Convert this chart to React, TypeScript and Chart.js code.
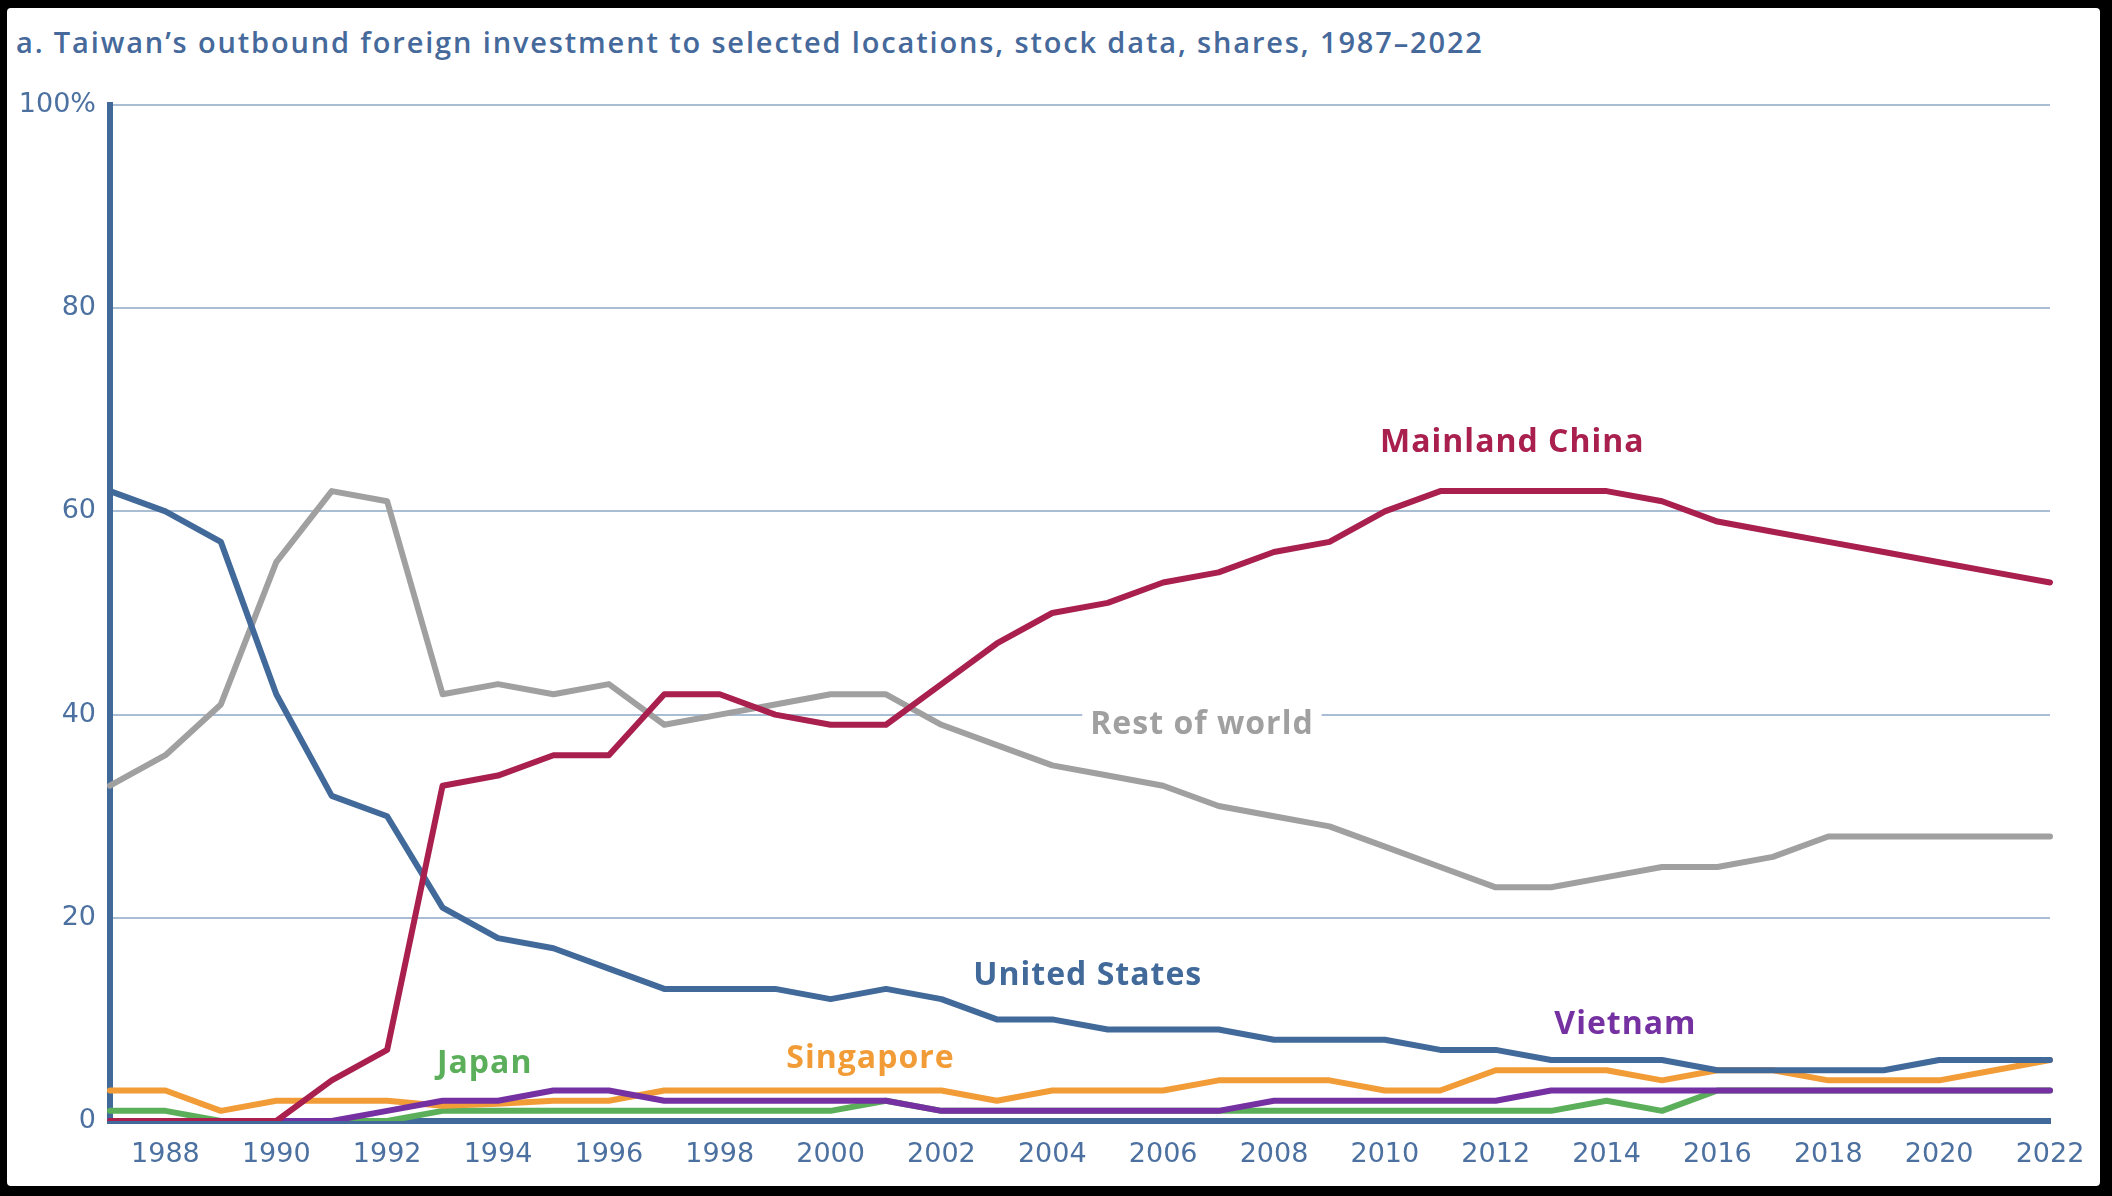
import React, { useEffect, useRef } from "react";
import { Chart, registerables } from "chart.js";

Chart.register(...registerables);

const years = [
  "1987", "1988", "1989", "1990", "1991", "1992", "1993", "1994", "1995", "1996",
  "1997", "1998", "1999", "2000", "2001", "2002", "2003", "2004", "2005", "2006",
  "2007", "2008", "2009", "2010", "2011", "2012", "2013", "2014", "2015", "2016",
  "2017", "2018", "2019", "2020", "2021", "2022",
];

const mainlandChina = [0, 0, 0, 0, 4, 7, 33, 34, 36, 36, 42, 42, 40, 39, 39, 43, 47, 50, 51, 53, 54, 56, 57, 60, 62, 62, 62, 62, 61, 59, 58, 57, 56, 55, 54, 53];
const restOfWorld = [33, 36, 41, 55, 62, 61, 42, 43, 42, 43, 39, 40, 41, 42, 42, 39, 37, 35, 34, 33, 31, 30, 29, 27, 25, 23, 23, 24, 25, 25, 26, 28, 28, 28, 28, 28];
const unitedStates = [62, 60, 57, 42, 32, 30, 21, 18, 17, 15, 13, 13, 13, 12, 13, 12, 10, 10, 9, 9, 9, 8, 8, 8, 7, 7, 6, 6, 6, 5, 5, 5, 5, 6, 6, 6];
const singapore = [3, 3, 1, 2, 2, 2, 1.5, 1.7, 2, 2, 3, 3, 3, 3, 3, 3, 2, 3, 3, 3, 4, 4, 4, 3, 3, 5, 5, 5, 4, 5, 5, 4, 4, 4, 5, 6];
const japan = [1, 1, 0, 0, 0, 0, 1, 1, 1, 1, 1, 1, 1, 1, 2, 1, 1, 1, 1, 1, 1, 1, 1, 1, 1, 1, 1, 2, 1, 3, 3, 3, 3, 3, 3, 3];
const vietnam = [0, 0, 0, 0, 0, 1, 2, 2, 3, 3, 2, 2, 2, 2, 2, 1, 1, 1, 1, 1, 1, 2, 2, 2, 2, 2, 3, 3, 3, 3, 3, 3, 3, 3, 3, 3];

const yTicks = [0, 20, 40, 60, 80, 100];

const TITLE = "a. Taiwan\u2019s outbound foreign investment to selected locations, stock data, shares, 1987\u20132022";

const RED = "#A91F4E";
const GRAY = "#A0A0A0";
const BLUE = "#41699A";
const ORANGE = "#F29C38";
const GREEN = "#5BAF5B";
const PURPLE = "#7531A1";
const GRID = "#A9BDD5";
const TICK = "#4C71A0";
const FONT = "'Open Sans', 'Noto Sans', sans-serif";
const TICK_FONT = "'DejaVu Sans', 'Open Sans', sans-serif";

// Series name labels placed in data coordinates (year, percent)
const seriesLabels = [
  { text: "Mainland China", year: 2012.3, value: 66.7, color: RED, box: false },
  { text: "Rest of world", year: 2006.7, value: 39.0, color: GRAY, box: true },
  { text: "United States", year: 2004.64, value: 14.3, color: BLUE, box: false },
  { text: "Vietnam", year: 2014.34, value: 9.5, color: PURPLE, box: false },
  { text: "Singapore", year: 2000.72, value: 6.1, color: ORANGE, box: false },
  { text: "Japan", year: 1993.76, value: 5.6, color: GREEN, box: false },
];

function setLabelFont(ctx: any) {
  ctx.font = `700 32px ${FONT}`;
  try {
    ctx.letterSpacing = "1px";
  } catch (e) {
    /* ignore */
  }
}

const labelPlugin = {
  id: "seriesLabels",
  beforeDatasetsDraw(chart: any) {
    const { ctx, scales } = chart;
    ctx.save();
    setLabelFont(ctx);
    for (const l of seriesLabels) {
      if (!l.box) continue;
      const x = scales.x.getPixelForValue(l.year - 1987);
      const y = scales.y.getPixelForValue(l.value);
      const w = ctx.measureText(l.text).width;
      ctx.fillStyle = "#ffffff";
      ctx.fillRect(x - w / 2 - 8, y - 20, w + 16, 40);
    }
    ctx.restore();
  },
  afterDatasetsDraw(chart: any) {
    const { ctx, scales } = chart;
    ctx.save();
    setLabelFont(ctx);
    ctx.textAlign = "center";
    ctx.textBaseline = "middle";
    for (const l of seriesLabels) {
      const x = scales.x.getPixelForValue(l.year - 1987);
      const y = scales.y.getPixelForValue(l.value);
      ctx.fillStyle = l.color;
      ctx.fillText(l.text, x, y);
    }
    try {
      ctx.letterSpacing = "0px";
    } catch (e) {
      /* ignore */
    }
    ctx.restore();
  },
};

function makeDataset(label: string, data: number[], color: string, order: number) {
  return {
    label,
    data,
    borderColor: color,
    backgroundColor: color,
    borderWidth: 6,
    pointRadius: 0,
    pointHoverRadius: 0,
    tension: 0,
    fill: false,
    borderCapStyle: "round" as const,
    borderJoinStyle: "round" as const,
    order,
  };
}

export default function App() {
  const canvasRef = useRef<HTMLCanvasElement | null>(null);

  useEffect(() => {
    if (!canvasRef.current) return;
    const chart = new Chart(canvasRef.current, {
      type: "line",
      data: {
        labels: years,
        datasets: [
          makeDataset("Mainland China", mainlandChina, RED, 0),
          makeDataset("United States", unitedStates, BLUE, 1),
          makeDataset("Vietnam", vietnam, PURPLE, 2),
          makeDataset("Singapore", singapore, ORANGE, 3),
          makeDataset("Japan", japan, GREEN, 4),
          makeDataset("Rest of world", restOfWorld, GRAY, 5),
        ],
      },
      options: {
        animation: false,
        responsive: true,
        maintainAspectRatio: false,
        layout: { padding: { top: 105, left: 0, right: 62, bottom: 15 } },
        plugins: {
          legend: { display: false },
          tooltip: { enabled: false },
          title: { display: false },
        },
        scales: {
          x: {
            type: "category",
            offset: false,
            z: 1,
            grid: { display: false, drawTicks: false },
            border: { display: true, color: BLUE, width: 6 },
            ticks: {
              autoSkip: false,
              maxRotation: 0,
              minRotation: 0,
              padding: 18,
              color: TICK,
              font: { family: TICK_FONT, size: 27, weight: "400" },
              callback: (_v: any, i: number) => (Number(years[i]) % 2 === 0 ? years[i] : ""),
            },
            afterFit: (s: any) => {
              s.height = 60;
            },
          },
          y: {
            min: 0,
            max: 100,
            afterBuildTicks: (s: any) => {
              s.ticks = yTicks.map((v) => ({ value: v }));
            },
            grid: { color: GRID, lineWidth: 2, drawTicks: false },
            border: { display: true, color: BLUE, width: 6 },
            ticks: {
              padding: 14,
              color: TICK,
              font: { family: TICK_FONT, size: 27, weight: "400" },
              callback: (v: any) => (v === 100 ? "100%" : String(v)),
            },
            afterFit: (s: any) => {
              s.width = 110;
            },
          },
        },
      },
      plugins: [labelPlugin],
    });
    return () => chart.destroy();
  }, []);

  return (
    <div style={{ position: "fixed", left: 0, top: 0, width: 2112, height: 1196, background: "#000" }}>
      <div
        style={{
          position: "absolute",
          left: 7,
          top: 8,
          width: 2093,
          height: 1178,
          background: "#fff",
          borderRadius: 4,
        }}
      />
      <div
        style={{
          position: "absolute",
          left: 16,
          top: 28,
          fontFamily: FONT,
          fontWeight: 600,
          fontSize: 29,
          letterSpacing: "1.85px",
          lineHeight: "28px",
          color: "#46699B",
          whiteSpace: "nowrap",
        }}
      >
        {TITLE}
      </div>
      <div style={{ position: "absolute", left: 0, top: 0, width: 2112, height: 1196 }}>
        <canvas ref={canvasRef} />
      </div>
    </div>
  );
}
